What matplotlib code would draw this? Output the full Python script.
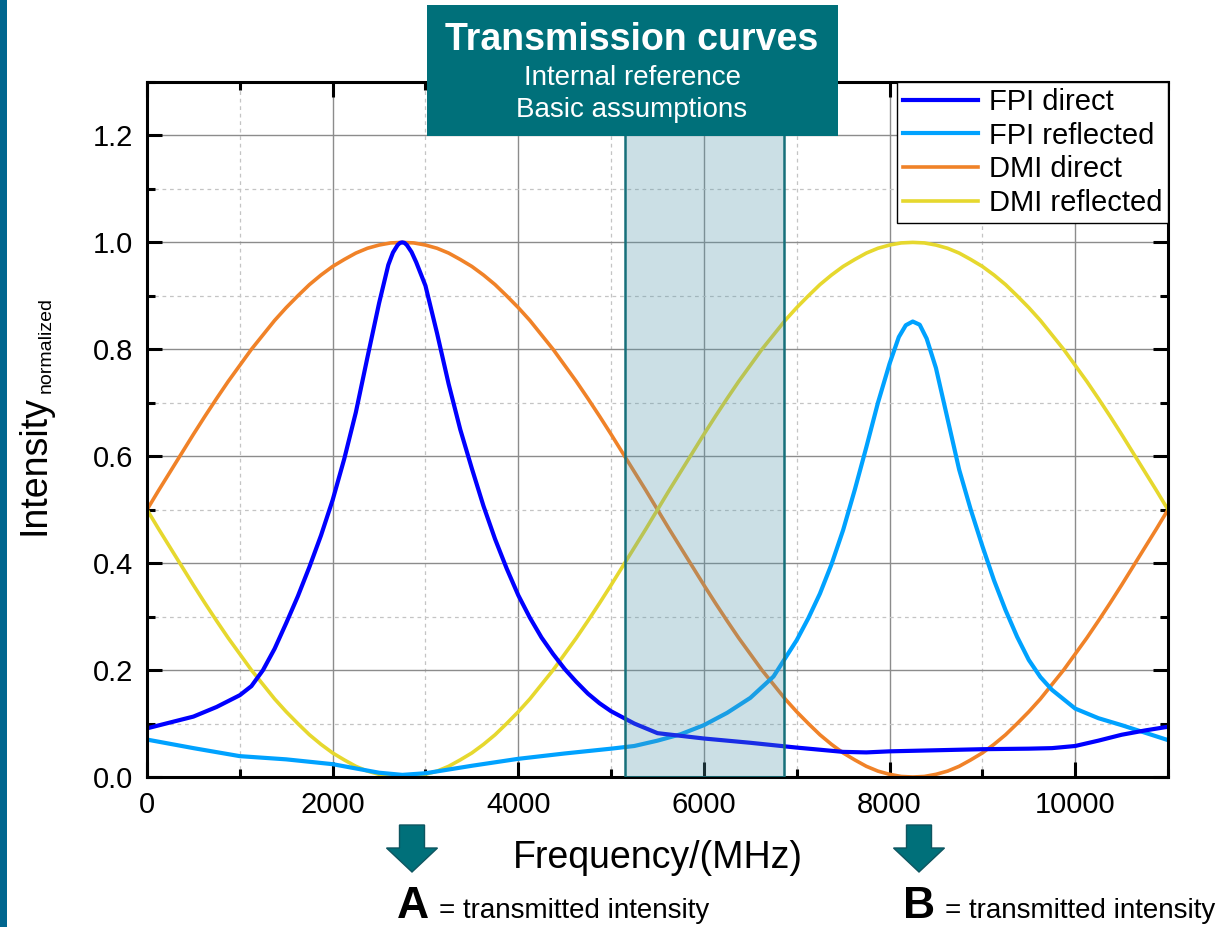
import matplotlib.pyplot as plt
import numpy as np
from matplotlib.patches import Rectangle, Polygon
from matplotlib.ticker import MultipleLocator

plt.rcParams['font.family'] = ['Liberation Sans', 'DejaVu Sans']

W, H = 1220, 927

# DMI curves, sampled every 125 MHz
dmi_freq = np.arange(0, 11001, 125)
dmi_direct = [0.500, 0.536, 0.571, 0.606, 0.641, 0.675, 0.708, 0.740, 0.770, 0.800,
              0.827, 0.854, 0.878, 0.900, 0.921, 0.939, 0.955, 0.968, 0.980, 0.989,
              0.995, 0.999, 1.000, 0.999, 0.995, 0.989, 0.980, 0.968, 0.955, 0.939,
              0.921, 0.900, 0.878, 0.854, 0.827, 0.800, 0.770, 0.740, 0.708, 0.675,
              0.641, 0.606, 0.571, 0.536, 0.500, 0.464, 0.429, 0.394, 0.359, 0.325,
              0.292, 0.260, 0.230, 0.200, 0.173, 0.146, 0.122, 0.100, 0.079, 0.061,
              0.045, 0.032, 0.020, 0.011, 0.005, 0.001, 0.000, 0.001, 0.005, 0.011,
              0.020, 0.032, 0.045, 0.061, 0.079, 0.100, 0.122, 0.146, 0.173, 0.200,
              0.230, 0.260, 0.292, 0.325, 0.359, 0.394, 0.429, 0.464, 0.500]
dmi_reflected = [0.500, 0.464, 0.429, 0.394, 0.359, 0.325, 0.292, 0.260, 0.230, 0.200,
                 0.173, 0.146, 0.122, 0.100, 0.079, 0.061, 0.045, 0.032, 0.020, 0.011,
                 0.005, 0.001, 0.000, 0.001, 0.005, 0.011, 0.020, 0.032, 0.045, 0.061,
                 0.079, 0.100, 0.122, 0.146, 0.173, 0.200, 0.230, 0.260, 0.292, 0.325,
                 0.359, 0.394, 0.429, 0.464, 0.500, 0.536, 0.571, 0.606, 0.641, 0.675,
                 0.708, 0.740, 0.770, 0.800, 0.827, 0.854, 0.878, 0.900, 0.921, 0.939,
                 0.955, 0.968, 0.980, 0.989, 0.995, 0.999, 1.000, 0.999, 0.995, 0.989,
                 0.980, 0.968, 0.955, 0.939, 0.921, 0.900, 0.878, 0.854, 0.827, 0.800,
                 0.770, 0.740, 0.708, 0.675, 0.641, 0.606, 0.571, 0.536, 0.500]

# FPI curves
fpi_direct_freq = [0, 250, 500, 750, 1000, 1125, 1250, 1375, 1500, 1625, 1750, 1875,
                   2000, 2125, 2250, 2375, 2500, 2600, 2650, 2700, 2725, 2750, 2775,
                   2800, 2850, 2900, 3000, 3125, 3250, 3375, 3500, 3625, 3750, 3875,
                   4000, 4125, 4250, 4375, 4500, 4625, 4750, 4875, 5000, 5250, 5500,
                   6000, 6500, 7000, 7500, 7750, 8000, 8500, 9000, 9500, 9750, 10000,
                   10250, 10500, 10750, 11000]
fpi_direct = [0.091, 0.102, 0.113, 0.131, 0.153, 0.170, 0.200, 0.240, 0.288, 0.338,
              0.393, 0.452, 0.518, 0.595, 0.682, 0.785, 0.886, 0.958, 0.981, 0.995,
              0.999, 1.000, 0.999, 0.995, 0.982, 0.963, 0.919, 0.830, 0.735, 0.650,
              0.577, 0.507, 0.445, 0.390, 0.340, 0.298, 0.261, 0.230, 0.202, 0.178,
              0.156, 0.138, 0.123, 0.100, 0.082, 0.072, 0.064, 0.055, 0.047, 0.046,
              0.048, 0.050, 0.052, 0.053, 0.054, 0.058, 0.068, 0.079, 0.087, 0.094]

fpi_refl_freq = [0, 500, 1000, 1500, 2000, 2250, 2500, 2750, 3000, 3500, 4000, 4500,
                 5000, 5250, 5500, 5750, 6000, 6250, 6500, 6750, 7000, 7125, 7250,
                 7375, 7500, 7625, 7750, 7875, 8000, 8100, 8175, 8250, 8325, 8400,
                 8500, 8625, 8750, 8875, 9000, 9125, 9250, 9375, 9500, 9625, 9750,
                 10000, 10250, 10500, 10750, 11000]
fpi_reflected = [0.070, 0.054, 0.039, 0.033, 0.024, 0.016, 0.008, 0.004, 0.007, 0.021,
                 0.034, 0.044, 0.053, 0.058, 0.068, 0.080, 0.097, 0.120, 0.148, 0.188,
                 0.256, 0.297, 0.343, 0.398, 0.462, 0.537, 0.617, 0.700, 0.773, 0.823,
                 0.845, 0.852, 0.846, 0.820, 0.765, 0.670, 0.575, 0.500, 0.432, 0.368,
                 0.312, 0.262, 0.219, 0.187, 0.163, 0.128, 0.110, 0.097, 0.083, 0.069]

band = (5150, 6860)

fig = plt.figure(figsize=(W / 100, H / 100), dpi=100)
ax = fig.add_axes([147 / W, 1 - 777 / H, (1168 - 147) / W, (777 - 82) / H])

ax.plot(dmi_freq, dmi_direct, color='#F08228', lw=2.6, label='DMI direct', zorder=2)
ax.plot(dmi_freq, dmi_reflected, color='#E6D82E', lw=2.6, label='DMI reflected', zorder=2.1)
ax.plot(fpi_refl_freq, fpi_reflected, color='#00A2FF', lw=3.0, label='FPI reflected', zorder=2.2)
ax.plot(fpi_direct_freq, fpi_direct, color='#0000FF', lw=3.0, label='FPI direct', zorder=2.3)

ax.axvspan(band[0], band[1], facecolor=(85 / 255, 152 / 255, 172 / 255, 0.3),
           edgecolor='#17707A', lw=1.8, zorder=3)

ax.set_xlim(0, 11000)
ax.set_ylim(0, 1.3)
ax.xaxis.set_major_locator(MultipleLocator(2000))
ax.xaxis.set_minor_locator(MultipleLocator(1000))
ax.yaxis.set_major_locator(MultipleLocator(0.2))
ax.yaxis.set_minor_locator(MultipleLocator(0.1))
ax.yaxis.set_major_formatter(plt.FormatStrFormatter('%.1f'))

ax.set_axisbelow(True)
ax.grid(which='major', color='#8c8c8c', lw=1.0)
ax.grid(which='minor', color='#c4c4c4', ls=(0, (3, 3)), lw=0.9)

ax.tick_params(which='both', direction='in', top=True, right=True, width=2.2,
               labelsize=21, pad=10)
ax.tick_params(which='major', length=11)
ax.tick_params(which='minor', length=6)
for s in ax.spines.values():
    s.set_linewidth(2.2)

ax.set_xlabel('Frequency/(MHz)', fontsize=27, labelpad=15)

# y label with a small subscript, written as two rotated pieces
fig.text(45 / W, 1 - 535 / H, 'Intensity', fontsize=27, rotation=90,
         rotation_mode='anchor', ha='left', va='baseline')
fig.text(51 / W, 1 - 393 / H, 'normalized', fontsize=14, rotation=90,
         rotation_mode='anchor', ha='left', va='baseline')

handles, labels = ax.get_legend_handles_labels()
order = [3, 2, 0, 1]
leg = ax.legend([handles[i] for i in order], [labels[i] for i in order],
                loc='upper right', bbox_to_anchor=(1, 1), borderaxespad=0,
                fancybox=False, edgecolor='black', framealpha=1, fontsize=21,
                handlelength=2.6, handletextpad=0.35, labelspacing=0.2, borderpad=0.2)
leg.get_frame().set_linewidth(1.0)
leg.set_zorder(10)

# left accent bar
fig.add_artist(Rectangle((0, 0), 7 / W, 1, transform=fig.transFigure,
                         facecolor='#00668F', edgecolor='none'))

# title box
fig.add_artist(Rectangle((427 / W, 1 - 136 / H), (838 - 427) / W, (136 - 5) / H,
                         transform=fig.transFigure, facecolor='#00707A',
                         edgecolor='none', zorder=5))
fig.text(632 / W, 1 - 40 / H, 'Transmission curves', ha='center', va='center',
         color='white', fontsize=27, weight='bold', zorder=6)
fig.text(632 / W, 1 - 78 / H, 'Internal reference', ha='center', va='center',
         color='white', fontsize=20, zorder=6)
fig.text(632 / W, 1 - 110 / H, 'Basic assumptions', ha='center', va='center',
         color='white', fontsize=20, zorder=6)


def down_arrow(cx):
    pts = [(cx - 12.5, 825), (cx + 12.5, 825), (cx + 12.5, 848), (cx + 25.5, 848),
           (cx, 872), (cx - 25.5, 848), (cx - 12.5, 848)]
    pts = [(x / W, 1 - y / H) for x, y in pts]
    fig.add_artist(Polygon(pts, closed=True, transform=fig.transFigure,
                           facecolor='#00707A', edgecolor='#0E5560', lw=1.0))


for cx, letter, tx in [(412, 'A', 397), (919, 'B', 903)]:
    down_arrow(cx)
    fig.text(tx / W, 1 - 918 / H, letter, fontsize=32, weight='bold', va='baseline')
    fig.text((tx + 42) / W, 1 - 918 / H, '= transmitted intensity', fontsize=20,
             va='baseline')

fig.savefig('out.png', dpi=100)
